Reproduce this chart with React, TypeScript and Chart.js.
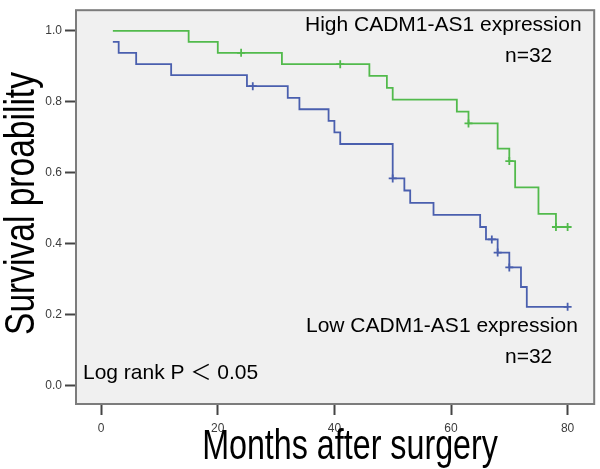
import React, { useEffect, useRef } from 'react';
import { Chart, registerables } from 'chart.js';

Chart.register(...registerables);

// High CADM1-AS1 expression (green) – Kaplan–Meier step points (month, survival)
const highTimes = [2, 15, 20, 31, 46, 49, 50, 61, 63, 68, 70, 71, 75, 78, 80];
const highSurv = [1.0, 0.969, 0.938, 0.906, 0.873, 0.839, 0.806, 0.772, 0.739, 0.668, 0.633, 0.559, 0.484, 0.447, 0.447];
const highCensorTimes = [24, 41, 63, 70, 78, 80];
const highCensorSurv = [0.938, 0.906, 0.739, 0.633, 0.447, 0.447];

// Low CADM1-AS1 expression (blue)
const lowTimes = [2, 3, 6, 12, 25, 32, 34, 39, 40, 41, 50, 52, 53, 57, 65, 66, 68, 70, 72, 73, 80];
const lowSurv = [0.969, 0.938, 0.906, 0.875, 0.844, 0.811, 0.779, 0.746, 0.714, 0.681, 0.584, 0.55, 0.515, 0.481, 0.447, 0.412, 0.375, 0.333, 0.278, 0.222, 0.222];
const lowCensorTimes = [26, 50, 67, 68, 70, 80];
const lowCensorSurv = [0.844, 0.584, 0.412, 0.375, 0.333, 0.222];

const xTickValues = [0, 20, 40, 60, 80];
const yTickValues = [0, 0.2, 0.4, 0.6, 0.8, 1.0];

const xTitle = 'Months after surgery';
const yTitle = 'Survival proability';
const highLabel = 'High CADM1-AS1 expression';
const lowLabel = 'Low CADM1-AS1 expression';
const nLabel = 'n=32';
const pLabel = 'Log rank P \uFF1C 0.05';

const GREEN = '#52ba4c';
const BLUE = '#4a5fae';
const FONT = '"Liberation Sans", Arial, "Noto Sans CJK SC", sans-serif';

const toPts = (xs: number[], ys: number[]) => xs.map((x, i) => ({ x, y: ys[i] }));

const backgroundPlugin = {
  id: 'kmBackground',
  beforeDraw(chart: any) {
    const { ctx, chartArea } = chart;
    ctx.save();
    ctx.fillStyle = '#ffffff';
    ctx.fillRect(0, 0, chart.width, chart.height);
    ctx.fillStyle = '#f0f0f0';
    ctx.fillRect(chartArea.left, chartArea.top, chartArea.right - chartArea.left, chartArea.bottom - chartArea.top);
    ctx.restore();
  },
  beforeDatasetsDraw(chart: any) {
    const { ctx, chartArea } = chart;
    ctx.save();
    ctx.strokeStyle = '#7c7c7c';
    ctx.lineWidth = 2;
    ctx.strokeRect(chartArea.left, chartArea.top, chartArea.right - chartArea.left, chartArea.bottom - chartArea.top);
    ctx.restore();
  },
};

const textPlugin = {
  id: 'kmText',
  afterDraw(chart: any) {
    const { ctx } = chart;
    ctx.save();
    ctx.fillStyle = '#000000';
    ctx.textBaseline = 'alphabetic';

    // in-plot annotations
    ctx.font = `21px ${FONT}`;
    ctx.textAlign = 'left';
    ctx.fillText(highLabel, 305, 31);
    ctx.fillText(nLabel, 505, 62);
    ctx.fillText(lowLabel, 306, 332);
    ctx.fillText(nLabel, 505, 363);
    ctx.fillText(pLabel, 83, 379);

    // x title (condensed)
    ctx.save();
    ctx.translate(350, 459);
    ctx.scale(0.75, 1);
    ctx.font = `43px ${FONT}`;
    ctx.textAlign = 'center';
    ctx.fillText(xTitle, 0, 0);
    ctx.restore();

    // y title (condensed, rotated)
    ctx.save();
    ctx.translate(34, 203.5);
    ctx.rotate(-Math.PI / 2);
    ctx.scale(0.78, 1);
    ctx.font = `43px ${FONT}`;
    ctx.textAlign = 'center';
    ctx.fillText(yTitle, 0, 0);
    ctx.restore();

    ctx.restore();
  },
};

export default function App() {
  const canvasRef = useRef<HTMLCanvasElement>(null);

  useEffect(() => {
    document.body.style.margin = '0';
    const canvas = canvasRef.current;
    if (!canvas) return;

    const stepLine = (pts: any[], color: string) => ({
      type: 'line' as const,
      data: pts,
      borderColor: color,
      backgroundColor: color,
      borderWidth: 1.8,
      stepped: 'before' as const,
      pointRadius: 0,
      fill: false,
      tension: 0,
    });
    const censor = (pts: any[], color: string) => ({
      type: 'line' as const,
      data: pts,
      showLine: false,
      borderColor: color,
      backgroundColor: color,
      pointStyle: 'cross' as const,
      pointRadius: 4,
      pointBorderWidth: 1.8,
    });

    const chart = new Chart(canvas, {
      type: 'line',
      data: {
        datasets: [
          stepLine(toPts(highTimes, highSurv), GREEN),
          censor(toPts(highCensorTimes, highCensorSurv), GREEN),
          stepLine(toPts(lowTimes, lowSurv), BLUE),
          censor(toPts(lowCensorTimes, lowCensorSurv), BLUE),
        ] as any,
      },
      options: {
        responsive: false,
        animation: false,
        devicePixelRatio: 1,
        layout: { padding: { top: 3, right: 4, left: 0, bottom: 0 } },
        plugins: {
          legend: { display: false },
          tooltip: { enabled: false },
          title: { display: false },
        },
        scales: {
          x: {
            type: 'linear',
            min: -4.32,
            max: 84.56,
            afterBuildTicks: (s: any) => {
              s.ticks = xTickValues.map((v) => ({ value: v }));
            },
            afterFit: (s: any) => {
              s.height = 65;
            },
            border: { display: false },
            grid: {
              display: true,
              drawOnChartArea: false,
              drawTicks: true,
              tickLength: 11,
              tickColor: '#444444',
              tickWidth: 2,
            },
            ticks: {
              autoSkip: false,
              maxRotation: 0,
              minRotation: 0,
              padding: 6,
              color: '#3c3c3c',
              font: { family: FONT, size: 12 },
              callback: (v: any) => String(v),
            },
          },
          y: {
            type: 'linear',
            min: -0.0518,
            max: 1.0581,
            afterBuildTicks: (s: any) => {
              s.ticks = yTickValues.map((v) => ({ value: v }));
            },
            afterFit: (s: any) => {
              s.width = 76;
            },
            border: { display: false },
            grid: {
              display: true,
              drawOnChartArea: false,
              drawTicks: true,
              tickLength: 11,
              tickColor: '#444444',
              tickWidth: 2,
            },
            ticks: {
              autoSkip: false,
              padding: 3,
              color: '#3c3c3c',
              font: { family: FONT, size: 12 },
              callback: (v: any) => Number(v).toFixed(1),
            },
          },
        },
      } as any,
      plugins: [backgroundPlugin, textPlugin],
    });

    return () => chart.destroy();
  }, []);

  return (
    <div style={{ width: 600, height: 469 }}>
      <canvas ref={canvasRef} width={600} height={469} style={{ display: 'block' }} />
    </div>
  );
}
